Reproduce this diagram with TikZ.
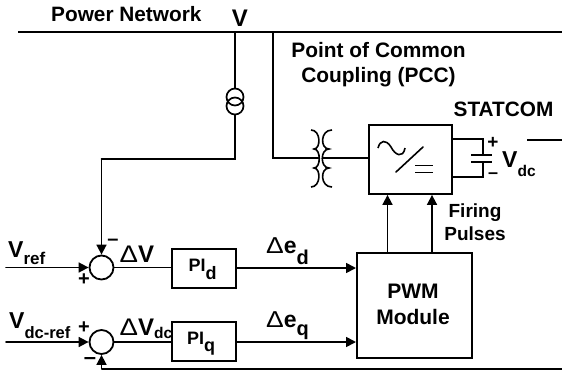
\documentclass[tikz,border=0pt]{standalone}
\usepackage{fontspec}
\usepackage{graphicx}
\setmainfont{Liberation Sans}
\usetikzlibrary{arrows.meta}
\newcommand{\fs}[1]{\fontsize{#1}{#1}\selectfont}
\newcommand{\fss}[2]{\fontsize{#1}{#2}\selectfont}
\newcommand{\tri}{\scalebox{1.15}[1]{\fontseries{m}\selectfont\char"0394}}
\tikzset{
  wire/.style={line width=1.7pt,line cap=round,line join=miter},
  arr/.style={wire,-{Triangle[length=10pt,width=10pt]}},
  blockbox/.style={draw,line width=1.9pt,inner sep=0pt,anchor=north west},
  summer/.style={draw,circle,line width=1.8pt,minimum size=24pt,inner sep=0pt},
  vtcoil/.style={draw,circle,line width=1.7pt,minimum size=17pt,inner sep=0pt},
  coil/.style={line width=1.6pt},
  lab/.style={inner sep=0pt,font=\bfseries},
}
\begin{document}
\begin{tikzpicture}[x=1pt,y=-1pt]
\useasboundingbox (0,0) rectangle (562,375);
% named points
\coordinate (busL) at (18,32); \coordinate (busR) at (562,32);
\coordinate (tap1) at (235,32); \coordinate (tap2) at (273,32);
\coordinate (c1) at (235,159); \coordinate (c2) at (101.5,159);
\coordinate (d1) at (273,158);
\coordinate (t1) at (318.5,158); \coordinate (t2) at (323,158);
% blocks
\node[blockbox,minimum width=83pt,minimum height=69pt] (conv) at (368,124) {};
\node[blockbox,minimum width=115pt,minimum height=105pt] (pwm) at (356,252) {};
\node[blockbox,minimum width=64pt,minimum height=39pt] (pid) at (171,248) {};
\node[blockbox,minimum width=64pt,minimum height=39pt] (piq) at (171,321) {};
\node[summer] (s1) at (101.5,267.5) {};
\node[summer] (s2) at (101.5,342) {};
% bus
\draw[line width=1.9pt] (busL) -- (busR);
% voltage measurement
\node[vtcoil] (vt1) at (235,97) {};
\node[vtcoil] (vt2) at (235,106) {};
\draw[wire] (tap1) -- (vt1.north);
\draw[wire] (vt2.south) -- (c1) -- (c2);
\draw[arr] (c2) -- (s1.north);
% PCC
\draw[wire] (tap2) -- (d1) -- (t1);
\draw[wire] (t2) -- (conv.west |- t2);
% transformer
\draw[coil] (311,130) .. controls (321,130) and (321,149) .. (314,149) .. controls (321,149) and (321,168) .. (314,168) .. controls (321,168) and (321,187) .. (311,187);
\draw[coil] (332,130) .. controls (320,130) and (320,149) .. (329,149) .. controls (320,149) and (320,168) .. (329,168) .. controls (320,168) and (320,187) .. (332,187);
% converter symbol
\draw[coil] (378,148) .. controls (380,140) and (386,139) .. (391,147) .. controls (395,155) and (403,159) .. (405,148);
\draw[coil,line cap=round] (396,172) -- (423,147);
\draw[coil] (415,165.5) -- (433,165.5) (415,172.5) -- (433,172.5);
% capacitor
\coordinate (capT) at (483,155); \coordinate (capB) at (483,162);
\draw[wire] (conv.east |- 0,139) -- (483,139) -- (capT);
\draw[wire] (conv.east |- 0,177) -- (483,177) -- (capB);
\draw[line width=2pt] (471,155) -- (492,155) (471,162) -- (492,162);
\draw[line width=1.4pt] (527,140) -- (562,140);
\node[lab] (cp) at (493,143) {\fs{19}+};
\node[lab] (cm) at (493,176) {\fs{18}–};
\node[lab,anchor=base west] (vdc) at (502,167) {\fs{23}V\raisebox{-9pt}{\fs{15.5}dc}};
% PWM arrows
\draw[arr] (pwm.north -| 387.5,0) -- (conv.south -| 387.5,0);
\draw[arr] (pwm.north -| 432,0) -- (conv.south -| 432,0);
% lower paths
\coordinate (vrefS) at (6,267.5); \coordinate (vdcS) at (6,342);
\draw[arr] (vrefS) -- (s1.west);
\draw[arr] (vdcS) -- (s2.west);
\draw[wire] (s1.east) -- (pid.west |- s1.east);
\draw[wire] (s2.east) -- (piq.west |- s2.east);
\draw[arr] (pid.east |- 0,268) -- (pwm.west |- 0,268);
\draw[arr] (piq.east |- 0,342) -- (pwm.west |- 0,342);
\coordinate (fbR) at (562,369); \coordinate (fbL) at (101.5,369);
\draw[line width=1.5pt] (fbR) -- (fbL);
\draw[arr] (fbL) -- (s2.south);
% labels
\node[lab,anchor=base west] (tpn) at (51,21) {\fs{20.8}Power Network};
\node[lab,anchor=base] (tv) at (240,26) {\fs{24}V};
\node[lab,align=center,font=\bfseries\fss{20.9}{25}] (tpcc) at (378.5,64.5) {Point of Common\\Coupling (PCC)};
\node[lab] (tst) at (503.5,109.5) {\fs{20.8}STATCOM};
\node[lab,align=center,font=\bfseries\fss{19}{22.5}] (tfp) at (475,222) {Firing\\Pulses};
\node[lab,align=center,font=\bfseries\fss{21}{26}] (tpwm) at (413,304) {PWM\\Module};
\node[lab,anchor=base west] (tpid) at (188.5,271) {\fs{18}PI\raisebox{-8pt}{\fs{18}d}};
\node[lab,anchor=base west] (tpiq) at (187,344) {\fs{18}PI\raisebox{-7pt}{\fs{18}q}};
\node[lab,anchor=base west] (tvr) at (8,257) {\fs{23}V\raisebox{-7pt}{\fs{17}ref}};
\node[lab,anchor=base west] (tvd) at (9,328) {\fs{23}V\raisebox{-10pt}{\fs{16.5}dc-ref}};
\node[lab,anchor=base west] (tdv) at (119.5,262) {\fs{24}\tri V};
\node[lab,anchor=base west] (tdvd) at (119.5,335) {\fs{24}\tri V\raisebox{-3pt}{\fs{15.5}dc}};
\node[lab,anchor=base west] (ted) at (266,253) {\fs{23}\tri e\raisebox{-11pt}{\fs{20}d}};
\node[lab,anchor=base west] (teq) at (266,327) {\fs{23}\tri e\raisebox{-8pt}{\fs{20}q}};
\node[lab] (m1) at (113,242) {\fs{20}–};
\node[lab] (p1) at (84,280) {\fs{20}+};
\node[lab] (p2) at (84,328) {\fs{20}+};
\node[lab] (m2) at (90,361) {\fs{22}–};
\end{tikzpicture}
\end{document}
